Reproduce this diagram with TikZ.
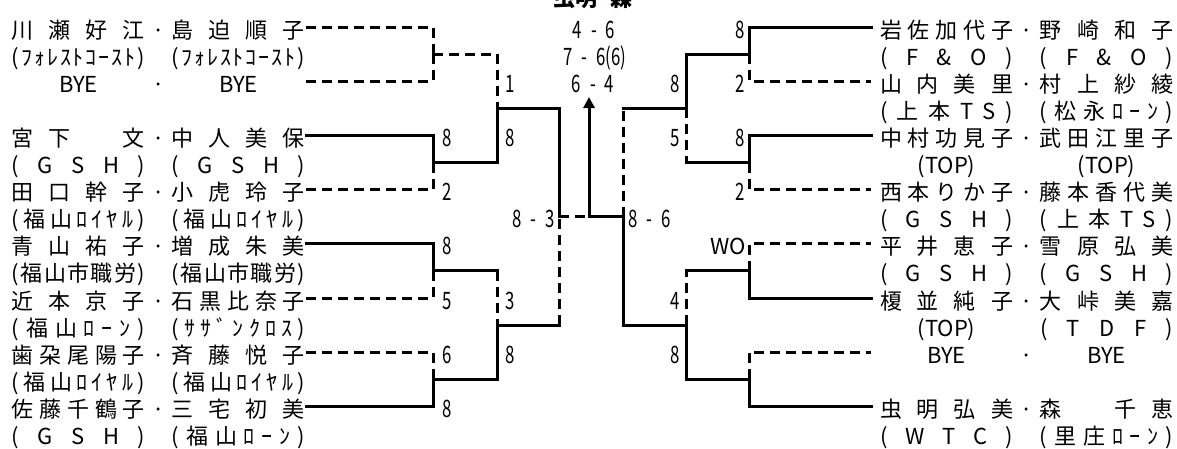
\documentclass[tikz,border=0pt]{standalone}
\usepackage{fontspec}
\setmainfont{Noto Sans CJK JP}
\newfontfamily\scfont[FakeStretch=0.7]{Noto Sans CJK JP}
\usetikzlibrary{arrows.meta}
\newlength\fw \setlength\fw{133pt}
\makeatletter
\def\spr@#1#2\@nil{#1\ifx\relax#2\relax\else\hfill\spr@#2\@nil\fi}
\newcommand\fld[1]{\hbox to\fw{\spr@#1\@nil}}
\makeatother
\newcommand\cfld[1]{\hbox to\fw{\hfil#1\hfil}}
\newcommand\rowstrut{\rule[-5pt]{0pt}{32pt}}
\newcommand\pair[2]{\rowstrut#1\makebox[27pt]{·}#2}
\newcommand\club[2]{\rowstrut#1\hspace{27pt}#2}
\newcommand\vs[2]{#1\hspace{9pt}-\hspace{9pt}#2}
\begin{document}
\begin{tikzpicture}[x=1pt,y=1pt,yscale=-1,xscale=1,
  font=\fontsize{22}{26}\selectfont,
  win/.style={line width=3pt,line cap=rect},
  lose/.style={line width=3pt,dash pattern=on 10pt off 6pt},
  lpair/.style={anchor=west,inner sep=0pt,outer xsep=1pt},
  rpair/.style={anchor=west,inner sep=0pt,outer xsep=9pt},
  score/.style={inner sep=0pt,font=\scfont\fontsize{24}{28}\selectfont}]
\useasboundingbox (0,0) rectangle (1177,448);

% Text Node
\node[inner sep=0pt,font=\bfseries\fontsize{22}{26}\selectfont] (ttl) at (593,-4.5) {\rowstrut 虫明·森};

%left half
% Text Node
\node[lpair] (l1) at (11,27) {\pair{\fld{川瀬好江}}{\fld{島迫順子}}};
\node[lpair] (lc1) at (11,54.1) {\club{\fld{(ﾌｫﾚｽﾄｺｰｽﾄ)}}{\fld{(ﾌｫﾚｽﾄｺｰｽﾄ)}}};
\node[lpair] (l2) at (11,81.2) {\pair{\cfld{BYE}}{\cfld{BYE}}};
\node[lpair] (l3) at (11,135.4) {\pair{\fld{宮下　文}}{\fld{中人美保}}};
\node[lpair] (lc3) at (11,162.5) {\club{\fld{(GSH)}}{\fld{(GSH)}}};
\node[lpair] (l4) at (11,189.6) {\pair{\fld{田口幹子}}{\fld{小虎玲子}}};
\node[lpair] (lc4) at (11,216.7) {\club{\fld{(福山ﾛｲﾔﾙ)}}{\fld{(福山ﾛｲﾔﾙ)}}};
\node[lpair] (l5) at (11,243.8) {\pair{\fld{青山祐子}}{\fld{増成朱美}}};
\node[lpair] (lc5) at (11,270.9) {\club{\fld{(福山市職労)}}{\fld{(福山市職労)}}};
\node[lpair] (l6) at (11,298) {\pair{\fld{近本京子}}{\fld{石黒比奈子}}};
\node[lpair] (lc6) at (11,325.1) {\club{\fld{(福山ﾛｰﾝ)}}{\fld{(ｻｻﾞﾝｸﾛｽ)}}};
\node[lpair] (l7) at (11,352.2) {\pair{\fld{歯朶尾陽子}}{\fld{斉藤悦子}}};
\node[lpair] (lc7) at (11,379.3) {\club{\fld{(福山ﾛｲﾔﾙ)}}{\fld{(福山ﾛｲﾔﾙ)}}};
\node[lpair] (l8) at (11,406.4) {\pair{\fld{佐藤千鶴子}}{\fld{三宅初美}}};
\node[lpair] (lc8) at (11,433.5) {\club{\fld{(GSH)}}{\fld{(福山ﾛｰﾝ)}}};

%right half
% Text Node
\node[rpair] (r1) at (871,27) {\pair{\fld{岩佐加代子}}{\fld{野崎和子}}};
\node[rpair] (rc1) at (871,54.1) {\club{\fld{(F\&O)}}{\fld{(F\&O)}}};
\node[rpair] (r2) at (871,81.2) {\pair{\fld{山内美里}}{\fld{村上紗綾}}};
\node[rpair] (rc2) at (871,108.3) {\club{\fld{(上本TS)}}{\fld{(松永ﾛｰﾝ)}}};
\node[rpair] (r3) at (871,135.4) {\pair{\fld{中村功見子}}{\fld{武田江里子}}};
\node[rpair] (rc3) at (871,162.5) {\club{\cfld{(TOP)}}{\cfld{(TOP)}}};
\node[rpair] (r4) at (871,189.6) {\pair{\fld{西本りか子}}{\fld{藤本香代美}}};
\node[rpair] (rc4) at (871,216.7) {\club{\fld{(GSH)}}{\fld{(上本TS)}}};
\node[rpair] (r5) at (871,243.8) {\pair{\fld{平井恵子}}{\fld{雪原弘美}}};
\node[rpair] (rc5) at (871,270.9) {\club{\fld{(GSH)}}{\fld{(GSH)}}};
\node[rpair] (r6) at (871,298) {\pair{\fld{榎並純子}}{\fld{大峠美嘉}}};
\node[rpair] (rc6) at (871,325.1) {\club{\cfld{(TOP)}}{\fld{(TDF)}}};
\node[rpair] (r7) at (871,352.2) {\pair{\cfld{BYE}}{\cfld{BYE}}};
\node[rpair] (r8) at (871,406.4) {\pair{\fld{虫明弘美}}{\fld{森　千恵}}};
\node[rpair] (rc8) at (871,433.5) {\club{\fld{(WTC)}}{\fld{(里庄ﾛｰﾝ)}}};

%junctions
\coordinate (m1) at (433,54.1);
\coordinate (m2) at (433,162.5);
\coordinate (m3) at (433,270.9);
\coordinate (m4) at (433,379.3);
\coordinate (q1) at (497,108.3);
\coordinate (q2) at (497,325.1);
\coordinate (s1) at (559,216.7);
\coordinate (f1) at (589,216.7);
\coordinate (ftop) at (589,97);
\coordinate (s2) at (623,216.7);
\coordinate (q3) at (686,108.3);
\coordinate (q4) at (686,325.1);
\coordinate (m5) at (749,54.1);
\coordinate (m6) at (749,162.5);
\coordinate (m7) at (749,270.9);
\coordinate (m8) at (749,379.3);

%Shape: left round 1
\draw[lose] (l1.east) -| (m1);
\draw[lose] (l2.east) -| (m1);
\draw[win] (l3.east) -| (m2);
\draw[lose] (l4.east) -| (m2);
\draw[win] (l5.east) -| (m3);
\draw[lose] (l6.east) -| (m3);
\draw[lose] (l7.east) -| (m4);
\draw[win] (l8.east) -| (m4);
%Shape: left round 2
\draw[lose] (m1) -| (q1);
\draw[win] (m2) -| (q1);
\draw[win] (m3) -- (m3 -| q2);
\draw[lose] (m3 -| q2) -- (q2);
\draw[win] (m4) -| (q2);
%Shape: left semi
\draw[win] (q1) -| (s1);
\draw[win] (q2) -- (q2 -| s1);
\draw[lose] (q2 -| s1) -- (s1);
%Shape: final
\draw[lose] (s1) -- (f1);
\draw[win] (f1) -- (s2);
\draw[win,-{Triangle[length=11pt,width=11pt]}] (f1) -- (ftop);
%Shape: right semi
\draw[lose] (s2) -- (s2 |- q3);
\draw[win] (s2 |- q3) -- (q3);
\draw[win] (s2) |- (q4);
%Shape: right round 2
\draw[win] (q3) |- (m5);
\draw[lose] (q3) -- (q3 |- m6);
\draw[win] (q3 |- m6) -- (m6);
\draw[lose] (q4) -- (q4 |- m7);
\draw[win] (q4 |- m7) -- (m7);
\draw[win] (q4) |- (m8);
%Shape: right round 1
\draw[win] (m5) |- (r1.west);
\draw[lose] (m5) |- (r2.west);
\draw[win] (m6) |- (r3.west);
\draw[lose] (m6) |- (r4.west);
\draw[lose] (m7) |- (r5.west);
\draw[win] (m7) |- (r6.west);
\draw[lose] (m8) |- (r7.west);
\draw[win] (m8) |- (r8.west);

% Text Node
\node[score] (fs1) at (594,27) {\rowstrut\vs{4}{6}};
\node[score] (fs2) at (595,54.1) {\rowstrut\vs{7}{6(6)}};
\node[score] (fs3) at (593,81.2) {\rowstrut\vs{6}{4}};
\node[score,anchor=east] (ls) at (555,216.7) {\rowstrut\vs{8}{3}};
\node[score,anchor=west] (rs) at (628,216.7) {\rowstrut\vs{8}{6}};
% Text Node
\node[score] (a1) at (447,135.4) {\rowstrut 8};
\node[score] (a2) at (447,189.6) {\rowstrut 2};
\node[score] (a3) at (447,243.8) {\rowstrut 8};
\node[score] (a4) at (447,298) {\rowstrut 5};
\node[score] (a5) at (447,352.2) {\rowstrut 6};
\node[score] (a6) at (447,406.4) {\rowstrut 8};
\node[score] (b1) at (510,81.2) {\rowstrut 1};
\node[score] (b2) at (510,135.4) {\rowstrut 8};
\node[score] (b3) at (510,298) {\rowstrut 3};
\node[score] (b4) at (510,352.2) {\rowstrut 8};
% Text Node
\node[score] (c1) at (740,27) {\rowstrut 8};
\node[score] (c2) at (740,81.2) {\rowstrut 2};
\node[score] (c3) at (740,135.4) {\rowstrut 8};
\node[score] (c4) at (740,189.6) {\rowstrut 2};
\node[inner sep=0pt,anchor=east] (c5) at (746,243.8) {\rowstrut WO};
\node[score] (d1) at (675,81.2) {\rowstrut 8};
\node[score] (d2) at (675,135.4) {\rowstrut 5};
\node[score] (d3) at (675,298) {\rowstrut 4};
\node[score] (d4) at (675,352.2) {\rowstrut 8};

\end{tikzpicture}
\end{document}
